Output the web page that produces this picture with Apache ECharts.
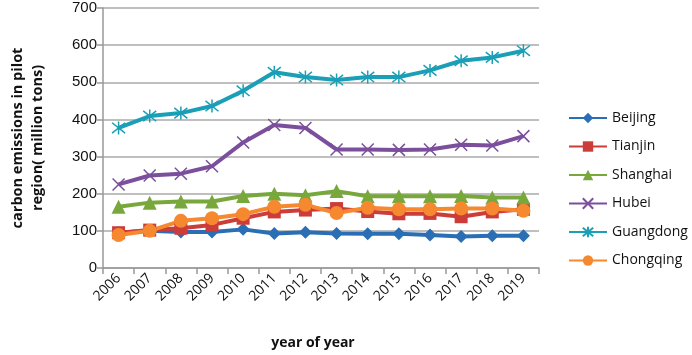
<!DOCTYPE html>
<html>
<head>
<meta charset="utf-8">
<script src="https://cdn.jsdelivr.net/npm/echarts@6/dist/echarts.min.js"></script>
<style>
  html, body { margin: 0; padding: 0; background: #fff; }
  #chart { width: 692px; height: 355px; }
</style>
</head>
<body>
<div id="chart"></div>
<script>
const years = ["2006", "2007", "2008", "2009", "2010", "2011", "2012", "2013", "2014", "2015", "2016", "2017", "2018", "2019"];

const beijing = [95, 100, 97, 97, 104, 93, 96, 93, 92, 92, 89, 85, 87, 87];
const tianjin = [95, 102, 107, 116, 134, 151, 156, 160, 152, 146, 147, 138, 151, 158];
const shanghai = [165, 176, 179, 179, 194, 200, 196, 207, 193, 193, 193, 194, 190, 190];
const hubei = [225, 249, 254, 274, 338, 385, 377, 319, 319, 318, 319, 332, 330, 355];
const guangdong = [377, 409, 417, 436, 477, 527, 514, 506, 514, 514, 532, 558, 567, 585];
const chongqing = [89, 100, 127, 134, 145, 165, 170, 148, 162, 158, 158, 160, 160, 154];

const yTicks = [0, 100, 200, 300, 400, 500, 600, 700];

const crossPath = "path://M0,0L10,10M10,0L0,10";
const starPath = "path://M0,1L10,9M10,1L0,9M5,0L5,10";

function makeSeries(name, data, color, symbol, size, stroked) {
  return {
    name: name,
    type: "line",
    data: data,
    symbol: symbol,
    symbolSize: size,
    showAllSymbol: true,
    lineStyle: { width: 4, color: color },
    itemStyle: stroked
      ? { color: "rgba(0,0,0,0)", borderColor: color, borderWidth: 1.5 }
      : { color: color, borderWidth: 0 },
    emphasis: { disabled: true },
    z: 2,
  };
}

const chart = echarts.init(document.getElementById("chart"));
chart.setOption({
  animation: false,
  backgroundColor: "#fff",
  grid: { left: 88, right: 153, top: 8, bottom: 85 },
  legend: {
    orient: "vertical",
    left: 563,
    top: 106,
    itemWidth: 38,
    itemHeight: 13,
    itemGap: 14.5,
    textStyle: { fontFamily: "Open Sans", fontSize: 14, color: "#111" },
    data: ["Beijing", "Tianjin", "Shanghai", "Hubei", "Guangdong", "Chongqing"],
  },
  xAxis: {
    type: "category",
    data: years,
    boundaryGap: true,
    name: "year of year",
    nameLocation: "middle",
    nameGap: 68,
    nameTextStyle: {
      fontFamily: "Open Sans",
      fontWeight: "bold",
      fontSize: 14,
      color: "#111",
      padding: [0, 16, 0, 0],
    },
    axisLine: { lineStyle: { color: "#999", width: 1.5 } },
    axisTick: { show: true, length: 6, inside: false, lineStyle: { color: "#999", width: 1.5 } },
    axisLabel: {
      rotate: 45,
      interval: 0,
      margin: 8,
      fontFamily: "Open Sans",
      fontSize: 14,
      color: "#111",
    },
    splitLine: { show: false },
  },
  yAxis: {
    type: "value",
    min: yTicks[0],
    max: yTicks[yTicks.length - 1],
    interval: 100,
    name: "carbon emissions in pilot\nregion( million tons)",
    nameLocation: "middle",
    nameGap: 55,
    nameTextStyle: {
      fontFamily: "Open Sans",
      fontWeight: "bold",
      fontSize: 14.5,
      lineHeight: 20,
      color: "#111",
    },
    axisLine: { show: true, lineStyle: { color: "#999", width: 1.5 } },
    axisTick: { show: true, length: 6, lineStyle: { color: "#999", width: 1.5 } },
    axisLabel: { fontFamily: "Liberation Sans", fontSize: 15, color: "#111", margin: 6 },
    splitLine: { lineStyle: { color: "#aaa", width: 1.5 } },
  },
  series: [
    makeSeries("Beijing", beijing, "#2a6fb5", "diamond", 13, false),
    makeSeries("Tianjin", tianjin, "#cc3c39", "rect", 13, false),
    makeSeries("Shanghai", shanghai, "#78a83c", "triangle", 14, false),
    makeSeries("Hubei", hubei, "#7b4f9c", crossPath, 12, true),
    makeSeries("Guangdong", guangdong, "#1a9fb6", starPath, 13, true),
    makeSeries("Chongqing", chongqing, "#f6892f", "circle", 14, false),
  ],
});
</script>
</body>
</html>
